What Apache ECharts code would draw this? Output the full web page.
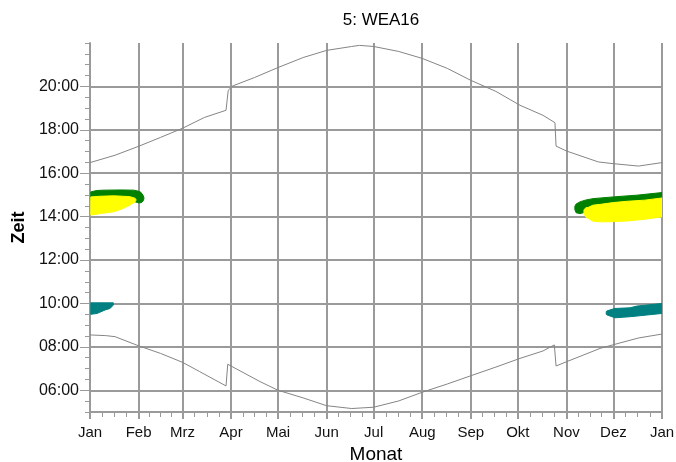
<!DOCTYPE html>
<html>
<head>
<meta charset="utf-8">
<script src="https://cdn.jsdelivr.net/npm/echarts/dist/echarts.min.js"></script>
<style>
  html, body { margin: 0; padding: 0; background: #fff; }
  #chart { width: 676px; height: 462px; }
</style>
</head>
<body>
<div id="chart"></div>
<script>
// Month starts as day of year, with their labels
const monthStarts = [0, 31, 59, 90, 120, 151, 181, 212, 243, 273, 304, 334, 365];
const monthLabels = ['Jan', 'Feb', 'Mrz', 'Apr', 'Mai', 'Jun', 'Jul', 'Aug', 'Sep', 'Okt', 'Nov', 'Dez', 'Jan'];

// Time axis labels (hours of the day)
const hourTicks = [6, 8, 10, 12, 14, 16, 18, 20];
const timeLabels = ['06:00', '08:00', '10:00', '12:00', '14:00', '16:00', '18:00', '20:00'];

// Sunset and sunrise, [day of year, hour]
const sunset = [
  [0, 16.49], [16, 16.83], [31, 17.24], [45, 17.65], [59, 18.07], [73, 18.57],
  [86.8, 18.9], [88.2, 19.82], [91, 20.02], [105, 20.41], [120, 20.87], [136, 21.33],
  [151, 21.66], [167, 21.84], [172, 21.89], [181, 21.84], [197, 21.61], [212, 21.29],
  [228, 20.83], [243, 20.28], [259, 19.77], [274.4, 19.13], [289, 18.67], [296.7, 18.33],
  [297.4, 17.25], [304.2, 17.02], [324.4, 16.52], [334, 16.44], [350, 16.33], [365, 16.49]
];
const sunrise = [
  [0, 8.55], [10, 8.52], [16, 8.47], [31, 8.05], [45, 7.7], [59, 7.29], [70, 6.86],
  [86.8, 6.2], [87.9, 7.2], [108.5, 6.4], [120, 6.0], [136, 5.65], [151, 5.29],
  [167, 5.16], [181, 5.22], [197, 5.51], [212, 5.91], [228, 6.29], [243, 6.67],
  [259, 7.07], [274.4, 7.47], [289, 7.81], [296.3, 8.09], [297.4, 7.12], [304.2, 7.32],
  [325.5, 7.93], [334, 8.1], [350, 8.41], [365, 8.59]
];

// Shadow periods, [day of year, from hour, to hour]
const janGreen = [
  [0.5, 14.75, 15.14], [4, 14.7, 15.2], [8, 14.7, 15.22], [20, 14.7, 15.23],
  [28, 14.7, 15.22], [31, 14.64, 15.17], [32.5, 14.64, 15.12], [33.8, 14.71, 14.99], [34.4, 14.82, 14.88]
];
const janYellow = [
  [0.5, 14.07, 14.91], [6.5, 14.14, 14.94], [15, 14.22, 14.96], [21, 14.37, 14.94],
  [25.5, 14.53, 14.92], [28.7, 14.68, 14.85], [29.3, 14.74, 14.8]
];
const decGreen = [
  [309.4, 14.32, 14.48], [310.2, 14.18, 14.58], [312.6, 14.14, 14.68], [316, 14.2, 14.76],
  [321, 14.3, 14.83], [334, 14.4, 14.91], [349, 14.5, 14.99], [365, 14.6, 15.11]
];
const decYellow = [
  [315.2, 14.12, 14.32], [316.5, 13.97, 14.41], [318, 13.91, 14.43], [321, 13.79, 14.53],
  [326, 13.76, 14.57], [334, 13.77, 14.65], [343, 13.8, 14.71], [354, 13.88, 14.76],
  [365, 13.99, 14.86]
];
const janTeal = [
  [0.5, 9.5, 10.03], [4.5, 9.54, 10.03], [9.6, 9.7, 10.03], [12.8, 9.77, 10.03], [14.9, 9.93, 10.03]
];
const decTeal = [
  [329.4, 9.5, 9.63], [330, 9.47, 9.66], [335, 9.34, 9.77], [344.6, 9.39, 9.8],
  [349, 9.42, 9.88], [355.5, 9.47, 9.93], [365, 9.54, 10.0]
];

const GRID_COLOR = '#9a9a9a';
const CURVE_COLOR = '#858585';
const FONT = 'Liberation Sans, Arial, sans-serif';

// Minor ticks: each month split into four, every half hour on the time axis
const monthQuarters = [];
for (let i = 0; i < monthStarts.length - 1; i++) {
  const a = monthStarts[i], b = monthStarts[i + 1];
  for (let k = 1; k < 4; k++) monthQuarters.push(a + (b - a) * k / 4);
}
const halfHours = [];
for (let h = 5; h <= 22; h += 0.5) halfHours.push(h);

// A shaded period drawn as one polygon: upper edge forward, lower edge back
function band(rows, color) {
  return {
    type: 'custom', silent: true, clip: true,
    encode: { x: 0, y: [1, 2] },
    data: rows,
    renderItem: function (params, api) {
      if (params.dataIndex !== 0) return null;
      const pts = [];
      rows.forEach(r => pts.push(api.coord([r[0], r[2]])));
      for (let i = rows.length - 1; i >= 0; i--) pts.push(api.coord([rows[i][0], rows[i][1]]));
      return {
        type: 'polygon',
        shape: { points: pts },
        style: { fill: color, stroke: color, lineWidth: 1 }
      };
    }
  };
}

const chart = echarts.init(document.getElementById('chart'), null, { renderer: 'canvas' });

chart.setOption({
  animation: false,
  backgroundColor: '#fff',
  textStyle: { fontFamily: FONT },
  title: {
    text: '5: WEA16', left: 376, top: 7, textAlign: 'center',
    textStyle: { fontSize: 17, fontWeight: 'normal', color: '#000', fontFamily: FONT }
  },
  grid: { left: 90, right: 14, top: 43, bottom: 50, outerBoundsMode: 'none' },
  xAxis: [
    {
      type: 'value', min: 0, max: 365, position: 'bottom',
      name: 'Monat', nameLocation: 'middle', nameGap: 32,
      nameTextStyle: { fontSize: 19, color: '#000', fontFamily: FONT },
      axisLine: { show: true, lineStyle: { color: GRID_COLOR, width: 2 } },
      axisTick: { show: true, customValues: monthStarts, length: 7, lineStyle: { color: GRID_COLOR, width: 2 } },
      axisLabel: {
        customValues: monthStarts, fontSize: 15, color: '#111', margin: 13,
        formatter: v => monthLabels[monthStarts.indexOf(v)]
      },
      splitLine: { show: true, lineStyle: { color: GRID_COLOR, width: 2 } }
    },
    {
      type: 'value', min: 0, max: 365, position: 'bottom',
      axisLine: { show: false },
      axisTick: { show: true, customValues: monthQuarters, length: 5, lineStyle: { color: GRID_COLOR, width: 1 } },
      axisLabel: { show: false },
      splitLine: { show: false }
    }
  ],
  yAxis: [
    {
      type: 'value', min: 5, max: 22, position: 'left',
      name: 'Zeit', nameLocation: 'middle', nameGap: 62, nameRotate: 90,
      nameTextStyle: { fontSize: 18, fontWeight: 'bold', color: '#000', fontFamily: FONT },
      axisLine: { show: true, lineStyle: { color: GRID_COLOR, width: 2 } },
      axisTick: { show: true, customValues: hourTicks, length: 10, lineStyle: { color: GRID_COLOR, width: 1 } },
      axisLabel: {
        customValues: hourTicks, fontSize: 16, color: '#111', margin: 11,
        formatter: v => timeLabels[hourTicks.indexOf(v)]
      },
      splitLine: { show: true, lineStyle: { color: GRID_COLOR, width: 2 } }
    },
    {
      type: 'value', min: 5, max: 22, position: 'left',
      axisLine: { show: false },
      axisTick: { show: true, customValues: halfHours, length: 5, lineStyle: { color: GRID_COLOR, width: 1 } },
      axisLabel: { show: false },
      splitLine: { show: false }
    }
  ],
  series: [
    band(janGreen, '#008000'),
    band(janYellow, '#ffff00'),
    band(decGreen, '#008000'),
    band(decYellow, '#ffff00'),
    band(janTeal, '#008080'),
    band(decTeal, '#008080'),
    {
      type: 'line', silent: true, showSymbol: false, data: sunset,
      lineStyle: { color: CURVE_COLOR, width: 1 }
    },
    {
      type: 'line', silent: true, showSymbol: false, data: sunrise,
      lineStyle: { color: CURVE_COLOR, width: 1 }
    }
  ]
});
</script>
</body>
</html>
